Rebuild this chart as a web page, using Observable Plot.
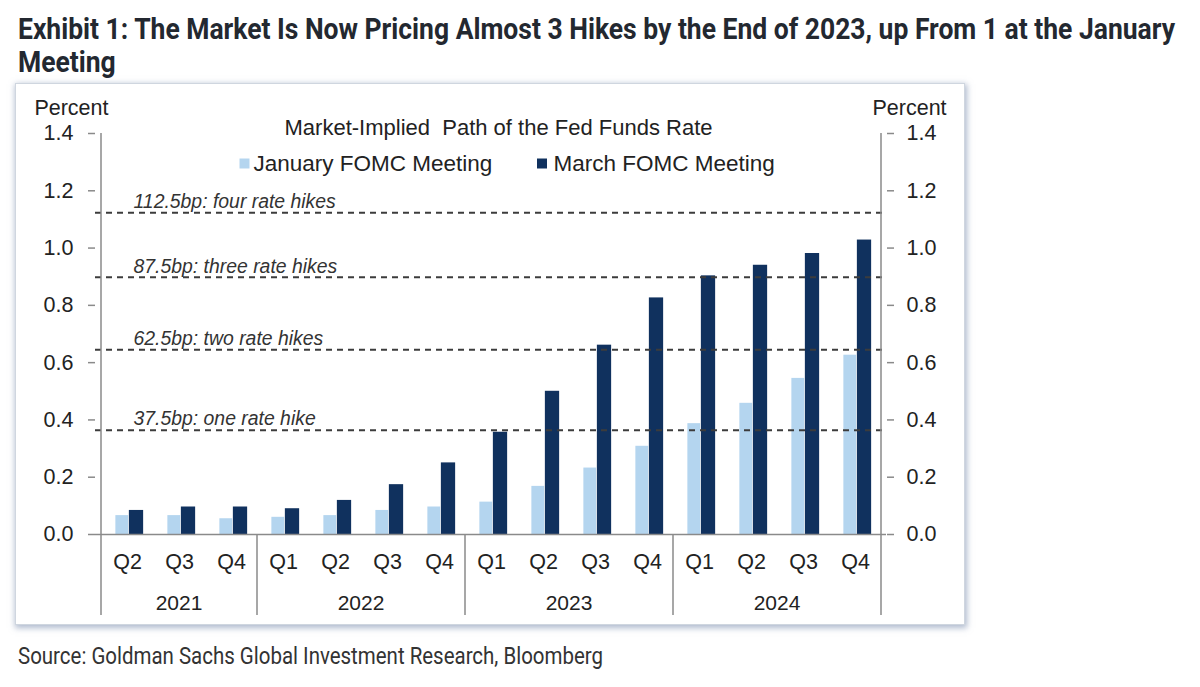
<!DOCTYPE html>
<html>
<head>
<meta charset="utf-8">
<script src="https://cdn.jsdelivr.net/npm/d3@7"></script>
<script src="https://cdn.jsdelivr.net/npm/@observablehq/plot@0.6"></script>
<style>
  html, body { margin: 0; padding: 0; background: #fff; }
  body { width: 1200px; height: 687px; overflow: hidden; position: relative; font-family: Roboto, "Liberation Sans", sans-serif; }
  #title { position: absolute; left: 18px; top: 12px; font-weight: 700; font-size: 30px; line-height: 33px; color: #232830; }
  #title span, #source span { display: inline-block; white-space: nowrap; transform-origin: 0 0; }
  #box { position: absolute; left: 15px; top: 83px; width: 948px; height: 540px; border: 1px solid #cfd6df;
         box-shadow: 1px 2px 6px 1px rgba(110,130,165,0.55); background: #fff; }
  #chart { position: absolute; left: 0; top: 0; }
  #source { position: absolute; left: 18px; top: 644px; font-size: 24px; line-height: 24px; color: #333; }
</style>
</head>
<body>
<div id="title"><span id="t1">Exhibit 1: The Market Is Now Pricing Almost 3 Hikes by the End of 2023, up From 1 at the January</span><br><span id="t2">Meeting</span></div>
<div id="box"><div id="chart"></div></div>
<div id="source"><span id="s1">Source: Goldman Sachs Global Investment Research, Bloomberg</span></div>
<script>
// ---- data ----
const years    = ["2021","2021","2021","2022","2022","2022","2022","2023","2023","2023","2023","2024","2024","2024","2024"];
const quarters = ["Q2","Q3","Q4","Q1","Q2","Q3","Q4","Q1","Q2","Q3","Q4","Q1","Q2","Q3","Q4"];
const january  = [0.066, 0.066, 0.055, 0.060, 0.066, 0.084, 0.096, 0.113, 0.168, 0.232, 0.308, 0.387, 0.458, 0.545, 0.626];
const march    = [0.084, 0.096, 0.096, 0.090, 0.119, 0.174, 0.250, 0.357, 0.500, 0.661, 0.826, 0.903, 0.940, 0.981, 1.028];
const seriesNames = ["January FOMC Meeting", "March FOMC Meeting"];
const seriesColors = ["#b4d5ef", "#10315e"];
const hikeLabels = ["112.5bp: four rate hikes", "87.5bp: three rate hikes", "62.5bp: two rate hikes", "37.5bp: one rate hike"];
const hikeLevels = [1.123, 0.898, 0.645, 0.364];
const yTicks = [0, 0.2, 0.4, 0.6, 0.8, 1.0, 1.2, 1.4];
const chartTitle = "Market-Implied  Path of the Fed Funds Rate";
const axisLabel = "Percent";

// ---- tables ----
const keys = quarters.map((q, i) => years[i] + " " + q);
const janData = keys.map((k, i) => ({key: k, value: january[i]}));
const marData = keys.map((k, i) => ({key: k, value: march[i]}));
const hikes = hikeLabels.map((l, i) => ({label: l, value: hikeLevels[i]}));
const yearList = Array.from(new Set(years));

const W = 948, H = 540, ML = 79, MR = 78, MT = 49, MB = 90;
const bw = (W - ML - MR) / keys.length;
const axisColor = "#8a8a8a";
const textColor = "#222";

function yearGroups(index, scales, values, dims) {
  const x = scales.x, y = scales.y;
  const band = typeof x.bandwidth === "function" ? x.bandwidth() : x.bandwidth;
  const y0 = y(0), yTop = y(1.4), yEnd = y0 + 81;
  const g = d3.create("svg:g");
  yearList.forEach((yr, j) => {
    const ks = keys.filter((k, i) => years[i] === yr);
    const start = x(ks[0]), end = x(ks[ks.length - 1]) + band;
    g.append("line").attr("x1", start).attr("x2", start)
      .attr("y1", j === 0 ? yTop : y0).attr("y2", yEnd)
      .attr("stroke", axisColor).attr("stroke-width", 1.5);
    if (j === yearList.length - 1) {
      g.append("line").attr("x1", end).attr("x2", end)
        .attr("y1", yTop).attr("y2", yEnd)
        .attr("stroke", axisColor).attr("stroke-width", 1.5);
    }
    g.append("text").attr("x", (start + end) / 2).attr("y", y0 + 69).attr("dy", "0.32em")
      .attr("text-anchor", "middle").attr("fill", textColor).attr("font-size", 21).text(yr);
  });
  return g.node();
}

const legendMarks = [];
const legendOffsets = [{sq: 149, tx: 158}, {sq: 446.5, tx: 458}];
seriesNames.forEach((name, i) => {
  legendMarks.push(Plot.dot([name], {frameAnchor: "top-left", dx: legendOffsets[i].sq, dy: 30, symbol: "square", r: 5.64, fill: seriesColors[i], stroke: null}));
  legendMarks.push(Plot.text([name], {frameAnchor: "top-left", lineAnchor: "middle", text: d => d, dx: legendOffsets[i].tx, dy: 30.6, textAnchor: "start", fill: textColor, fontSize: 22.5}));
});

const plot = Plot.plot({
  width: W, height: H,
  marginLeft: ML, marginRight: MR, marginTop: MT, marginBottom: MB,
  x: {type: "band", domain: keys, padding: 0, axis: null},
  y: {domain: [0, 1.4], axis: null},
  style: {fontFamily: "'Liberation Sans', Arial, sans-serif", fontSize: "21px", color: textColor, background: "transparent", overflow: "visible"},
  marks: [
    Plot.barY(janData, {x: "key", y: "value", fill: seriesColors[0], insetLeft: bw / 2 - 12, insetRight: bw / 2 - 1.5}),
    Plot.barY(marData, {x: "key", y: "value", fill: seriesColors[1], insetLeft: bw / 2 + 1.5, insetRight: bw / 2 - 16.5}),
    Plot.ruleY(hikes, {y: "value", stroke: "#3c3c3c", strokeWidth: 2, strokeDasharray: "6,5"}),
    Plot.text(hikes, {y: "value", text: "label", frameAnchor: "left", lineAnchor: "middle", dx: 38, dy: -11, textAnchor: "start", fontStyle: "italic", fontSize: 19.4, fill: "#333"}),
    Plot.ruleY([0], {stroke: axisColor, strokeWidth: 1.5}),
    Plot.axisY({anchor: "left", ticks: yTicks, tickFormat: d3.format(".1f"), tickSize: 7, tickPadding: 15, stroke: axisColor, strokeWidth: 1.5, label: null, fill: textColor, fontSize: 21.5}),
    Plot.axisY({anchor: "right", ticks: yTicks, tickFormat: d3.format(".1f"), tickSize: 7, tickPadding: 13, stroke: axisColor, strokeWidth: 1.5, label: null, fill: textColor, fontSize: 21.5}),
    Plot.axisX({anchor: "bottom", tickSize: 0, tickPadding: 19, tickFormat: k => k.split(" ")[1], label: null, fill: textColor, fontSize: 21.5}),
    yearGroups,
    Plot.text([axisLabel], {frameAnchor: "top-left", lineAnchor: "middle", text: d => d, dx: 13, dy: -25, textAnchor: "end", fill: textColor, fontSize: 21.5}),
    Plot.text([axisLabel], {frameAnchor: "top-right", lineAnchor: "middle", text: d => d, dx: -14, dy: -25, textAnchor: "start", fill: textColor, fontSize: 21.5}),
    Plot.text([chartTitle], {frameAnchor: "top", lineAnchor: "middle", text: d => d, dx: 7.5, dy: -6, textAnchor: "middle", fill: textColor, fontSize: 22}),
    ...legendMarks
  ]
});
plot.style.whiteSpace = "pre";
document.getElementById("chart").appendChild(plot);

// fit condensed-looking title/source widths
function fit(id, target, others) {
  const el = document.getElementById(id);
  const w = el.getBoundingClientRect().width;
  const s = target / w;
  el.style.transform = `scaleX(${s})`;
  (others || []).forEach(o => document.getElementById(o).style.transform = `scaleX(${s})`);
}
fit("t1", 1157, ["t2"]);
fit("s1", 585);
</script>
</body>
</html>
